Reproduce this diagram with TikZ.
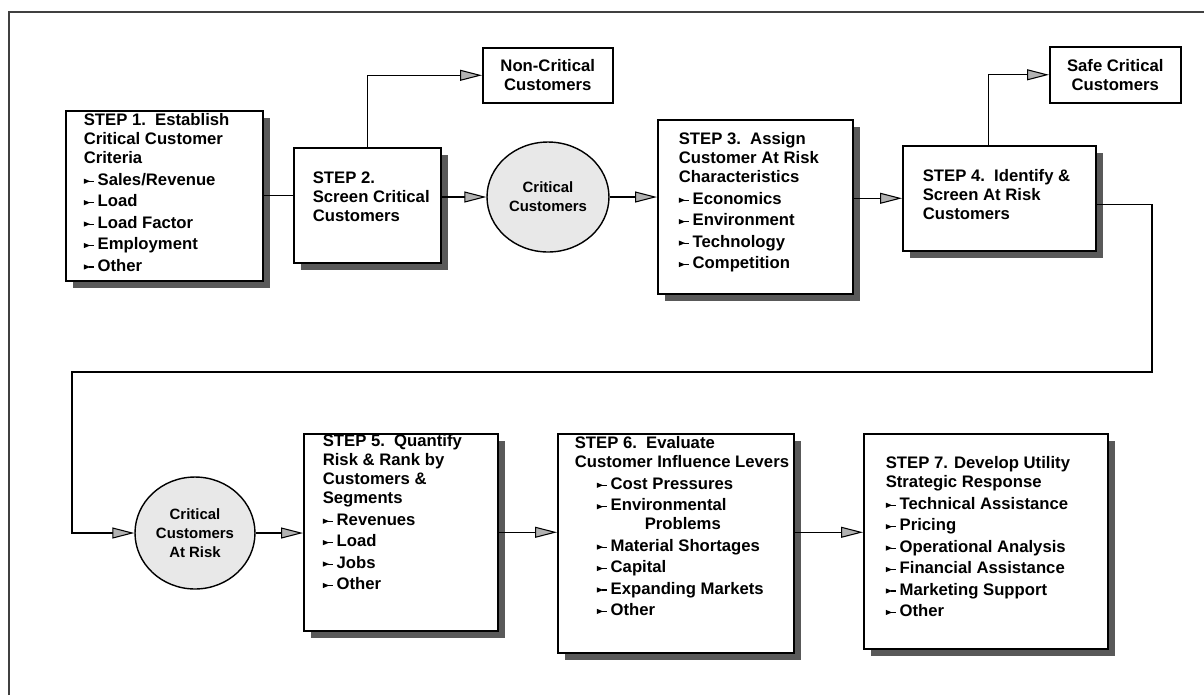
\documentclass[tikz,border=0pt]{standalone}
\usepackage{fontspec}
\setmainfont{Liberation Sans}
\usetikzlibrary{arrows.meta, shapes.geometric, shadows, positioning, calc}

% small pointer used in front of the list entries
\newcommand{\itm}{\tikz[baseline]{\fill (0,0.8pt) -- (3.6pt,2.3pt) -- (0,3.8pt) -- cycle; \draw[line width=0.6pt] (2.8pt,2.3pt) -- (6pt,2.3pt);}\hspace{1.6pt}}
% text block of a step box: height, width, left gap, top gap, lines
\newcommand{\boxtxt}[5]{\parbox[c][#1][t]{#2}{\raggedright\leftskip=#3\vspace*{#4}#5}}

\tikzset{
  stepbox/.style={draw, line width=0.9pt, fill=white, anchor=north west, inner sep=0pt,
    drop shadow={shadow xshift=0.14cm, shadow yshift=-0.14cm, fill=black!65, opacity=1}},
  endbox/.style={draw, line width=0.9pt, fill=white, anchor=north west, align=center, inner sep=0pt},
  pool/.style={ellipse, draw, line width=0.8pt, fill=gray!18, align=center, inner sep=0pt,
    font=\bfseries\fontsize{8.5}{10.8}\selectfont},
  arr/.style={line width=0.6pt, -{Triangle[length=0.44cm, width=0.22cm, fill=gray!60]}},
  link/.style={line width=0.6pt},
}

\begin{document}
\begin{tikzpicture}[x=0.02cm, y=-0.02cm, font=\bfseries\fontsize{9.5}{10.8}\selectfont]
\useasboundingbox (0,0) rectangle (1204,698);

% frame
\draw[line width=0.6pt, black!75] (9,695) -- (9,12) -- (1204,12);

% first row
\node[stepbox] (s1) at (65,110) {\boxtxt{3.40cm}{3.94cm}{0.36cm}{0.06cm}{STEP 1.\ \ Establish\\ Critical Customer\\ Criteria\\[1.4pt]
  \itm Sales/Revenue\\[1.4pt] \itm Load\\[1.4pt] \itm Load Factor\\[1.4pt] \itm Employment\\[1.4pt] \itm Other}};
\node[stepbox] (s2) at (293,147) {\boxtxt{2.30cm}{2.94cm}{0.38cm}{0.48cm}{STEP 2.\\ Screen Critical\\ Customers}};
\node[endbox, minimum width=2.60cm, minimum height=1.10cm] (nc) at (482,47) {Non-Critical\\ Customers};
\node[pool, minimum width=2.44cm, minimum height=2.20cm] (cc) at (548,197) {Critical\\ Customers};
\node[stepbox] (s3) at (657,119) {\boxtxt{3.48cm}{3.90cm}{0.42cm}{0.26cm}{STEP 3.\ \ Assign\\ Customer At Risk\\ Characteristics\\[1.4pt]
  \itm Economics\\[1.4pt] \itm Environment\\[1.4pt] \itm Technology\\[1.4pt] \itm Competition}};
\node[stepbox] (s4) at (902,145) {\boxtxt{2.10cm}{3.86cm}{0.40cm}{0.48cm}{STEP 4.\ \ Identify \&\\ Screen At Risk\\ Customers}};
\node[endbox, minimum width=2.62cm, minimum height=1.12cm] (sc) at (1049,46) {Safe Critical\\ Customers};

% second row
\node[pool, minimum width=2.40cm, minimum height=2.24cm] (car) at (195,533) {Critical\\ Customers\\ At Risk};
\node[stepbox] (s5) at (303,433) {\boxtxt{3.94cm}{3.88cm}{0.38cm}{0.02cm}{STEP 5.\ \ Quantify\\ Risk \& Rank by\\ Customers \&\\ Segments\\[1.4pt]
  \itm Revenues\\[1.4pt] \itm Load\\[1.4pt] \itm Jobs\\[1.4pt] \itm Other}};
\node[stepbox] (s6) at (557,433) {\boxtxt{4.38cm}{4.72cm}{0.34cm}{0.06cm}{STEP 6.\ \ Evaluate\\ Customer Influence Levers\\[1.4pt]
  \hspace*{0.44cm}\itm Cost Pressures\\[1.4pt] \hspace*{0.44cm}\itm Environmental\\ \hspace*{1.40cm}Problems\\[1.4pt]
  \hspace*{0.44cm}\itm Material Shortages\\[1.4pt] \hspace*{0.44cm}\itm Capital\\[1.4pt]
  \hspace*{0.44cm}\itm Expanding Markets\\[1.4pt] \hspace*{0.44cm}\itm Other}};
\node[stepbox] (s7) at (863,433) {\boxtxt{4.30cm}{4.88cm}{0.44cm}{0.46cm}{STEP 7. Develop Utility\\ Strategic Response\\[1.4pt]
  \itm Technical Assistance\\[1.4pt] \itm Pricing\\[1.4pt] \itm Operational Analysis\\[1.4pt]
  \itm Financial Assistance\\[1.4pt] \itm Marketing Support\\[1.4pt] \itm Other}};

% turning points of the long return line
\coordinate (t1) at (1152,372);
\coordinate (t2) at (72,372);

\draw[link] (s1.east) -- (s1.east -| s2.west);
\draw[arr] (s2.north) |- (nc.west);
\draw[arr] (s2.east |- cc.west) -- (cc.west);
\draw[arr] (cc.east) -- (cc.east -| s3.west);
\draw[arr] (s3.east |- s4.west) -- (s4.west);
\draw[arr] ([xshift=-0.22cm]s4.north) |- (sc.west);
\draw[arr] ([yshift=-0.13cm]s4.east) -| (t1) -- (t2) |- (car.west);
\draw[arr] (car.east) -- (car.east -| s5.west);
\draw[arr] (s5.east) -- (s5.east -| s6.west);
\draw[arr] (s5.east -| s6.east) -- (s5.east -| s7.west);
\end{tikzpicture}
\end{document}
